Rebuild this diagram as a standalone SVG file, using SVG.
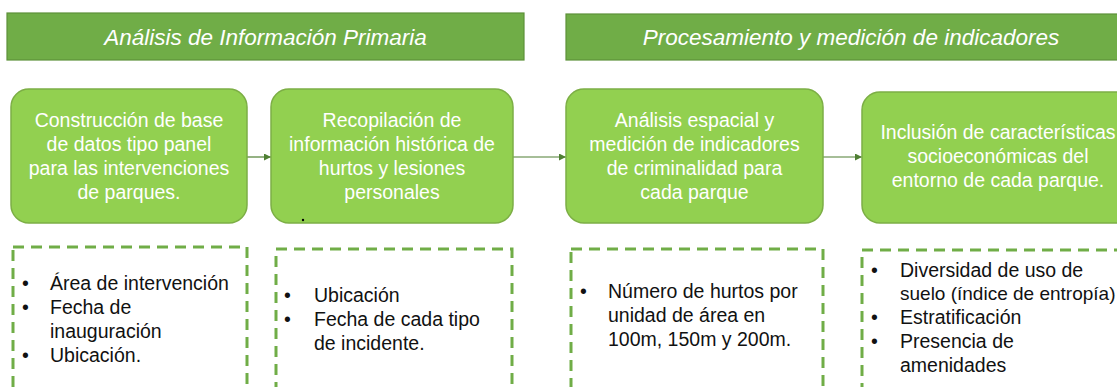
<svg xmlns="http://www.w3.org/2000/svg" width="1117" height="387" viewBox="0 0 1117 387">
<style>
.hdr{fill:#70ad47;stroke:#5d9139;stroke-width:1.2}
.hdrt{font-family:"Liberation Sans",Arial,sans-serif;font-size:22.5px;font-style:italic;fill:#ffffff;text-anchor:middle}
.box{fill:#92d050;stroke:#7cae45;stroke-width:1.5}
.bt{font-family:"Liberation Sans",Arial,sans-serif;font-size:19.5px;fill:#ffffff;text-anchor:middle}
.dash{fill:none;stroke:#70ad47;stroke-width:3;stroke-dasharray:11 7}
.lt{font-family:"Liberation Sans",Arial,sans-serif;font-size:19.5px;fill:#111111}
.conn{stroke:#4f7f33;stroke-width:1.2;fill:none;marker-end:url(#ah)}
</style>
<defs>
<marker id="ah" viewBox="0 0 10 10" refX="10" refY="5" markerWidth="7" markerHeight="7" markerUnits="userSpaceOnUse" orient="auto">
<path d="M0,0 L10,5 L0,10 z" fill="#4f7f33"/>
</marker>
</defs>
<rect width="1117" height="387" fill="#ffffff"/>
<g id="header1">
<rect class="hdr" x="7" y="13" width="517" height="47"/>
<text class="hdrt" x="265.5" y="45">Análisis de Información Primaria</text>
</g>
<g id="header2">
<rect class="hdr" x="566" y="14" width="570" height="46"/>
<text class="hdrt" x="851" y="45">Procesamiento y medición de indicadores</text>
</g>
<g id="connectors">
<line class="conn" x1="247" y1="157" x2="271" y2="157"/>
<line class="conn" x1="513" y1="157" x2="566" y2="157"/>
<line class="conn" x1="823" y1="157" x2="862" y2="157"/>
</g>
<g id="step1">
<rect class="box" x="11" y="89" width="236" height="134" rx="18"/>
<text class="bt" x="129" y="127">Construcción de base</text>
<text class="bt" x="129" y="151">de datos tipo panel</text>
<text class="bt" x="129" y="175">para las intervenciones</text>
<text class="bt" x="129" y="199">de parques.</text>
</g>
<g id="step2">
<rect class="box" x="271" y="89" width="242" height="134" rx="18"/>
<text class="bt" x="392" y="127">Recopilación de</text>
<text class="bt" x="392" y="151">información histórica de</text>
<text class="bt" x="392" y="175">hurtos y lesiones</text>
<text class="bt" x="392" y="199">personales</text>
<circle cx="303" cy="220" r="1.2" fill="#000000"/>
</g>
<g id="step3">
<rect class="box" x="566" y="89" width="257" height="134" rx="18"/>
<text class="bt" x="694.5" y="127">Análisis espacial y</text>
<text class="bt" x="694.5" y="151">medición de indicadores</text>
<text class="bt" x="694.5" y="175">de criminalidad para</text>
<text class="bt" x="694.5" y="199">cada parque</text>
</g>
<g id="step4">
<rect class="box" x="862" y="92" width="280" height="131" rx="18"/>
<text class="bt" x="998" y="139">Inclusión de características</text>
<text class="bt" x="998" y="163">socioeconómicas del</text>
<text class="bt" x="998" y="187">entorno de cada parque.</text>
</g>
<g id="detail1">
<rect class="dash" x="13" y="247" width="234" height="160"/>
<text class="lt" x="22" y="290">•</text><text class="lt" x="50" y="290">Área de intervención</text>
<text class="lt" x="22" y="314">•</text><text class="lt" x="50" y="314">Fecha de</text>
<text class="lt" x="50" y="338">inauguración</text>
<text class="lt" x="22" y="362">•</text><text class="lt" x="50" y="362">Ubicación.</text>
</g>
<g id="detail2">
<rect class="dash" x="276" y="249" width="236" height="160"/>
<text class="lt" x="284" y="302">•</text><text class="lt" x="314" y="302">Ubicación</text>
<text class="lt" x="284" y="326">•</text><text class="lt" x="314" y="326">Fecha de cada tipo</text>
<text class="lt" x="314" y="350">de incidente.</text>
</g>
<g id="detail3">
<rect class="dash" x="571" y="249" width="252" height="160"/>
<text class="lt" x="580" y="298">•</text><text class="lt" x="608" y="298">Número de hurtos por</text>
<text class="lt" x="608" y="322">unidad de área en</text>
<text class="lt" x="608" y="346">100m, 150m y 200m.</text>
</g>
<g id="detail4">
<rect class="dash" x="862" y="250" width="290" height="160"/>
<text class="lt" x="871" y="277">•</text><text class="lt" x="900" y="277">Diversidad de uso de</text>
<text class="lt" x="900" y="300" style="font-size:19px">suelo (índice de entropía)</text>
<text class="lt" x="871" y="324">•</text><text class="lt" x="900" y="324">Estratificación</text>
<text class="lt" x="871" y="348">•</text><text class="lt" x="900" y="348">Presencia de</text>
<text class="lt" x="900" y="372">amenidades</text>
</g>
</svg>
